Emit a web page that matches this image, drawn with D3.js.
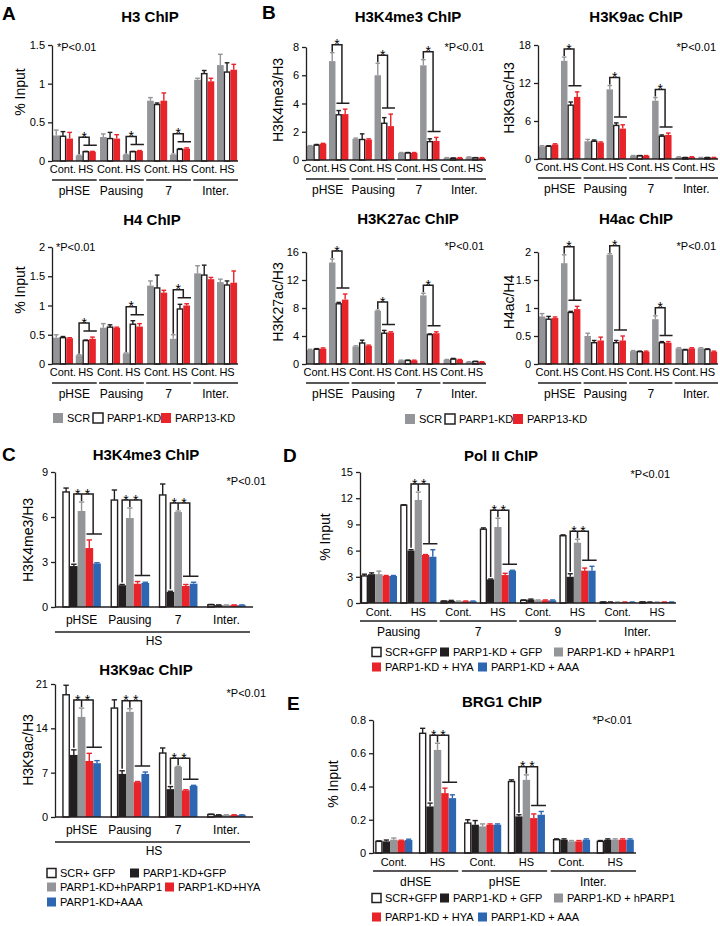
<!DOCTYPE html>
<html>
<head>
<meta charset="utf-8">
<script src="https://cdn.jsdelivr.net/npm/d3@7"></script>
<style>
  body { margin: 0; background: #fff; }
  svg { display: block; font-family: Arial, "Liberation Sans", Helvetica, sans-serif; }
</style>
</head>
<body>
<div id="chart"></div>
<script>
// ---------- data (rows = group x condition, columns = series) ----------
const groupsAB = ['pHSE', 'Pausing', '7', 'Inter.'];
const groupsC = ['pHSE', 'Pausing', '7', 'Inter.'];
const groupsD = ['Pausing', '7', '9', 'Inter.'];
const groupsE = ['dHSE', 'pHSE', 'Inter.'];
const conds = ['Cont.', 'HS'];
const condsC = ['HS'];
const series3 = ['SCR', 'PARP1-KD', 'PARP13-KD'];
const seriesC = ['SCR+ GFP', 'PARP1-KD+GFP', 'PARP1-KD+hPARP1', 'PARP1-KD+HYA', 'PARP1-KD+AAA'];
const seriesDE = ['SCR+GFP', 'PARP1-KD + GFP', 'PARP1-KD + hPARP1', 'PARP1-KD + HYA', 'PARP1-KD + AAA'];

// A: H3 ChIP (% input)
const h3Mean = [[0.33, 0.32, 0.29], [0.07, 0.12, 0.12], [0.31, 0.29, 0.29], [0.08, 0.12, 0.13],
                [0.78, 0.73, 0.78], [0.08, 0.15, 0.16], [1.05, 1.13, 1.03], [1.24, 1.15, 1.18]];
const h3Err = [[0.07, 0.06, 0.08], [0.005, 0.005, 0.005], [0.04, 0.08, 0.05], [0.005, 0.005, 0.005],
               [0.04, 0.02, 0.1], [0.01, 0.01, 0.01], [0.02, 0.04, 0.04], [0.14, 0.12, 0.07]];
// A: H4 ChIP
const h4Mean = [[0.45, 0.45, 0.44], [0.15, 0.4, 0.43], [0.62, 0.63, 0.62], [0.18, 0.68, 0.64],
                [1.34, 1.3, 1.22], [0.43, 0.94, 1.0], [1.55, 1.52, 1.45], [1.4, 1.35, 1.39]];
const h4Err = [[0.05, 0.02, 0.01], [0.01, 0.01, 0.03], [0.07, 0.04, 0.01], [0.01, 0.06, 0.05],
               [0.08, 0.22, 0.04], [0.07, 0.08, 0.03], [0.13, 0.17, 0.03], [0.05, 0.07, 0.2]];
// B: H3K4me3 / H3
const k4Mean = [[1.0, 1.05, 1.15], [7.0, 3.2, 3.25], [1.5, 1.45, 1.45], [6.0, 2.6, 2.4],
                [0.5, 0.5, 0.5], [6.7, 1.3, 1.35], [0.15, 0.12, 0.15], [0.2, 0.15, 0.15]];
const k4Err = [[0.02, 0.05, 0.03], [0.6, 0.3, 0.35], [0.05, 0.4, 0.05], [0.85, 0.4, 0.85],
               [0.03, 0.03, 0.03], [0.4, 0.2, 0.25], [0.02, 0.02, 0.02], [0.02, 0.02, 0.02]];
// B: H3K9ac / H3
const k9Mean = [[2.0, 2.0, 2.3], [15.5, 8.5, 9.8], [2.8, 2.8, 2.6], [11.0, 5.3, 4.8],
                [0.5, 0.5, 0.5], [9.2, 3.6, 3.8], [0.3, 0.2, 0.3], [0.2, 0.2, 0.2]];
const k9Err = [[0.1, 0.1, 0.1], [0.6, 0.5, 0.8], [0.3, 0.2, 0.1], [0.6, 0.4, 0.6],
               [0.05, 0.05, 0.05], [0.5, 0.2, 0.3], [0.05, 0.05, 0.05], [0.05, 0.05, 0.05]];
// B: H3K27ac / H3
const k27Mean = [[2.0, 2.1, 2.2], [14.5, 8.6, 9.2], [2.5, 3.0, 2.6], [7.6, 4.4, 4.5],
                 [0.5, 0.5, 0.5], [9.8, 4.2, 4.4], [0.6, 0.7, 0.6], [0.3, 0.35, 0.3]];
const k27Err = [[0.1, 0.1, 0.1], [0.5, 0.2, 0.8], [0.1, 0.4, 0.1], [0.1, 0.4, 0.1],
                [0.05, 0.05, 0.05], [0.3, 0.1, 0.2], [0.05, 0.1, 0.05], [0.03, 0.03, 0.03]];
// B: H4ac / H4
const h4acMean = [[0.85, 0.8, 0.82], [1.8, 0.92, 0.98], [0.5, 0.38, 0.42], [1.95, 0.38, 0.42],
                  [0.23, 0.22, 0.22], [0.8, 0.38, 0.38], [0.28, 0.25, 0.28], [0.28, 0.26, 0.22]];
const h4acErr = [[0.05, 0.05, 0.02], [0.15, 0.02, 0.05], [0.05, 0.04, 0.06], [0.02, 0.04, 0.08],
                 [0.01, 0.01, 0.01], [0.06, 0.02, 0.02], [0.01, 0.01, 0.01], [0.01, 0.01, 0.01]];
// C: H3K4me3 / H3 (HS only)
const cK4Mean = [[7.67, 2.73, 6.4, 3.93, 2.9], [7.13, 1.45, 5.93, 1.55, 1.6],
                 [7.47, 1.0, 6.33, 1.4, 1.55], [0.15, 0.12, 0.12, 0.12, 0.12]];
const cK4Err = [[0.26, 0.12, 0.6, 0.54, 0.05], [0.67, 0.05, 0.67, 0.15, 0.05],
                [0.73, 0.05, 0.07, 0.1, 0.1], [0.02, 0.02, 0.02, 0.02, 0.02]];
// C: H3K9ac / H3 (HS only)
const cK9Mean = [[19.3, 9.8, 15.8, 8.85, 8.5], [17.2, 6.8, 16.6, 5.5, 6.8],
                 [10.1, 4.4, 7.9, 4.2, 4.9], [0.4, 0.3, 0.3, 0.3, 0.3]];
const cK9Err = [[1.5, 0.8, 1.4, 1.2, 0.4], [1.3, 0.5, 0.5, 0.1, 0.3],
                [0.8, 0.4, 0.1, 0.1, 0.1], [0.05, 0.05, 0.05, 0.05, 0.05]];
// D: Pol II ChIP (% input)
const polMean = [[3.1, 3.3, 3.3, 3.1, 3.1], [11.2, 6.0, 11.8, 5.5, 5.3],
                 [0.2, 0.25, 0.2, 0.2, 0.2], [8.45, 2.7, 8.7, 3.2, 3.7],
                 [0.3, 0.4, 0.3, 0.3, 0.3], [7.7, 3.0, 6.9, 3.7, 3.7],
                 [0.1, 0.1, 0.1, 0.1, 0.1], [0.1, 0.1, 0.1, 0.1, 0.1]];
const polErr = [[0.2, 0.15, 0.35, 0.05, 0.05], [0.05, 0.1, 0.9, 0.05, 0.8],
                [0.03, 0.05, 0.03, 0.03, 0.03], [0.15, 0.05, 1.0, 0.2, 0.05],
                [0.05, 0.05, 0.05, 0.05, 0.05], [0.1, 0.35, 0.4, 0.3, 0.5],
                [0.02, 0.02, 0.02, 0.02, 0.02], [0.02, 0.02, 0.02, 0.02, 0.02]];
// E: BRG1 ChIP (% input)
const brgMean = [[0.07, 0.07, 0.08, 0.075, 0.078], [0.72, 0.28, 0.62, 0.36, 0.33],
                 [0.18, 0.17, 0.16, 0.17, 0.17], [0.43, 0.22, 0.44, 0.21, 0.23],
                 [0.08, 0.08, 0.07, 0.07, 0.08], [0.07, 0.08, 0.08, 0.08, 0.08]];
const brgErr = [[0.003, 0.008, 0.01, 0.002, 0.005], [0.03, 0.02, 0.04, 0.03, 0.02],
                [0.02, 0.025, 0.015, 0.005, 0.005], [0.01, 0.01, 0.03, 0.025, 0.02],
                [0.005, 0.005, 0.005, 0.005, 0.005], [0.005, 0.005, 0.005, 0.005, 0.005]];

// ---------- styles ----------
const GRAY = '#939598', BLACK = '#231f20', RED = '#e8232a', BLUE = '#2e67b1', WHITE = '#ffffff';
const fill3 = [GRAY, WHITE, RED], err3 = [GRAY, BLACK, RED];
const fill5 = [WHITE, BLACK, GRAY, RED, BLUE], err5 = [BLACK, BLACK, GRAY, RED, BLUE];

const svg = d3.select('#chart').append('svg')
  .attr('width', 720).attr('height', 926)
  .attr('viewBox', [0, 0, 720, 926]);

function txt(g, x, y, s, size, opts = {}) {
  return g.append('text')
    .attr('x', x).attr('y', y)
    .attr('font-size', size)
    .attr('font-weight', opts.bold ? 'bold' : null)
    .attr('text-anchor', opts.anchor || 'start')
    .attr('fill', '#000')
    .text(s);
}

function drawPanel(p) {
  const g = svg.append('g');
  const y = d3.scaleLinear().domain([0, p.max]).range([p.yBot, p.yTop]);
  const gx = d3.scaleBand().domain(p.groups).range([p.x0, p.x1])
    .paddingInner(p.gPad[0]).paddingOuter(p.gPad[1]);
  const cx = d3.scaleBand().domain(p.conds).range([0, gx.bandwidth()])
    .paddingInner(p.cPad[0]).paddingOuter(p.cPad[1]);
  const sx = d3.scaleBand().domain(d3.range(p.fills.length)).range([0, cx.bandwidth()]);
  const bw = sx.bandwidth();

  const cells = [];
  p.groups.forEach((gr, gi) => p.conds.forEach((c, ci) => {
    const row = gi * p.conds.length + ci;
    p.means[row].forEach((v, si) => cells.push({ gr, c, si, v, e: p.errs[row][si] }));
  }));
  const left = d => gx(d.gr) + cx(d.c) + sx(d.si);

  // bars
  g.selectAll('rect.bar').data(cells).join('rect')
    .attr('class', 'bar')
    .attr('x', d => left(d) + (p.fills[d.si] === WHITE ? 0.7 : 0))
    .attr('width', d => bw - (p.fills[d.si] === WHITE ? 1.4 : 0))
    .attr('y', d => y(d.v))
    .attr('height', d => p.yBot - y(d.v))
    .attr('fill', d => p.fills[d.si])
    .attr('stroke', d => p.fills[d.si] === WHITE ? BLACK : 'none')
    .attr('stroke-width', 1.4);

  // error bars (upper half only)
  const eb = g.selectAll('g.err').data(cells).join('g').attr('class', 'err')
    .attr('stroke', d => p.errCols[d.si]).attr('stroke-width', 1.4);
  eb.append('line')
    .attr('x1', d => left(d) + bw / 2).attr('x2', d => left(d) + bw / 2)
    .attr('y1', d => y(d.v)).attr('y2', d => y(d.v + d.e));
  eb.append('line')
    .attr('x1', d => left(d) + bw * 0.15).attr('x2', d => left(d) + bw * 0.85)
    .attr('y1', d => y(d.v + d.e)).attr('y2', d => y(d.v + d.e));

  // axes
  const ax = g.append('g').attr('transform', `translate(${p.x0},0)`)
    .call(d3.axisLeft(y).tickValues(p.ticks).tickFormat(d => d).tickSize(4).tickPadding(3).tickSizeOuter(0));
  ax.selectAll('path, line').attr('stroke', BLACK).attr('stroke-width', 1.3);
  ax.selectAll('text').attr('font-size', 11).attr('font-family', null).attr('fill', '#000');
  g.append('line').attr('x1', p.x0).attr('x2', p.x1).attr('y1', p.yBot).attr('y2', p.yBot)
    .attr('stroke', BLACK).attr('stroke-width', 1.3);

  // x labels
  if (p.conds.length > 1) {
    p.groups.forEach(gr => {
      p.conds.forEach(c => txt(g, gx(gr) + cx(c) + cx.bandwidth() / 2, p.yBot + p.lab[0], c, 11, { anchor: 'middle' }));
      g.append('line').attr('x1', gx(gr)).attr('x2', gx(gr) + gx.bandwidth())
        .attr('y1', p.yBot + p.lab[1]).attr('y2', p.yBot + p.lab[1])
        .attr('stroke', BLACK).attr('stroke-width', 1.5);
      txt(g, gx(gr) + gx.bandwidth() / 2, p.yBot + p.lab[2], gr, 12, { anchor: 'middle' });
    });
  } else {
    p.groups.forEach(gr => txt(g, gx(gr) + gx.bandwidth() / 2, p.yBot + p.lab[0], gr, 12, { anchor: 'middle' }));
    g.append('line').attr('x1', p.x0).attr('x2', p.x1 - 3)
      .attr('y1', p.yBot + p.lab[1]).attr('y2', p.yBot + p.lab[1])
      .attr('stroke', BLACK).attr('stroke-width', 1.5);
    txt(g, (p.x0 + p.x1) / 2, p.yBot + p.lab[2], p.conds[0], 12, { anchor: 'middle' });
  }

  // significance brackets on the HS columns
  p.sig.forEach(gr => {
    const row = p.groups.indexOf(gr) * p.conds.length + p.conds.indexOf('HS');
    const m = p.means[row], e = p.errs[row];
    const top = i => y(m[i] + e[i]);
    const lx = i => gx(gr) + cx('HS') + sx(i);
    const mid = i => lx(i) + bw / 2;
    const path = d3.path();
    let stars, L1;
    if (p.fills.length === 3) {
      const L2 = Math.min(top(1), top(2)) - 6;
      L1 = Math.min(top(0), L2) - 8;
      const xr = lx(2);
      path.moveTo(mid(0), top(0) - 1); path.lineTo(mid(0), L1); path.lineTo(xr, L1); path.lineTo(xr, L2);
      path.moveTo(lx(1) + 1, L2); path.lineTo(lx(2) + bw + 1, L2);
      stars = [(mid(0) + xr) / 2];
    } else {
      const L2 = Math.min(top(3), top(4)) - 6;
      L1 = Math.min(top(1), top(2), L2) - 8;
      const x3 = lx(4);
      path.moveTo(mid(1), top(1) - 2); path.lineTo(mid(1), L1); path.lineTo(x3, L1); path.lineTo(x3, L2);
      path.moveTo(mid(2), L1); path.lineTo(mid(2), top(2) - 1);
      path.moveTo(lx(3) + 1, L2); path.lineTo(lx(4) + bw + 1, L2);
      stars = [(mid(1) + mid(2)) / 2, (mid(2) + x3) / 2];
    }
    g.append('path').attr('d', path.toString()).attr('fill', 'none')
      .attr('stroke', BLACK).attr('stroke-width', 1.5);
    stars.forEach(sx0 => txt(g, sx0, L1 + 4.5, '*', 14, { anchor: 'middle' }));
  });

  // titles and labels
  txt(g, p.title[1], p.title[2], p.title[0], 15, { bold: true, anchor: 'middle' });
  g.append('text')
    .attr('transform', `translate(${p.ylab[1]},${p.ylab[2]}) rotate(-90)`)
    .attr('text-anchor', 'middle').attr('font-size', 14).text(p.ylab[0]);
  txt(g, p.pval[0], p.pval[1], '*P<0.01', 11, { anchor: p.pval[2] });
}

function legend(rows, names, fills, sq) {
  const g = svg.append('g');
  rows.forEach(r => r.items.forEach(([idx, x]) => {
    g.append('rect').attr('x', x).attr('y', r.y - sq / 2).attr('width', sq).attr('height', sq)
      .attr('fill', fills[idx])
      .attr('stroke', fills[idx] === WHITE ? BLACK : 'none').attr('stroke-width', 1.5);
    txt(g, x + sq + 4, r.y + 4, names[idx], 11);
  }));
}

// ---------- panel A ----------
const lab3 = [12, 19, 34];
drawPanel({ x0: 52, x1: 238, yTop: 45, yBot: 161, max: 1.5, ticks: [0, 0.5, 1, 1.5],
  groups: groupsAB, conds, means: h3Mean, errs: h3Err, fills: fill3, errCols: err3,
  gPad: [0.05, 0], cPad: [0.12, 0.04], lab: lab3, sig: ['pHSE', 'Pausing', '7'],
  title: ['H3 ChIP', 150, 22], ylab: ['% Input', 25, 92], pval: [57, 51, 'start'] });
drawPanel({ x0: 52, x1: 238, yTop: 247, yBot: 364, max: 2, ticks: [0, 0.5, 1, 1.5, 2],
  groups: groupsAB, conds, means: h4Mean, errs: h4Err, fills: fill3, errCols: err3,
  gPad: [0.05, 0], cPad: [0.12, 0.04], lab: lab3, sig: ['pHSE', 'Pausing', '7'],
  title: ['H4 ChIP', 152, 225], ylab: ['% Input', 25, 290], pval: [56, 251, 'start'] });
legend([{ y: 418, items: [[0, 53], [1, 93], [2, 161]] }], series3, fill3, 10);

// ---------- panel B ----------
drawPanel({ x0: 306, x1: 486, yTop: 47, yBot: 160, max: 8, ticks: [0, 2, 4, 6, 8],
  groups: groupsAB, conds, means: k4Mean, errs: k4Err, fills: fill3, errCols: err3,
  gPad: [0.05, 0], cPad: [0.12, 0.04], lab: lab3, sig: ['pHSE', 'Pausing', '7'],
  title: ['H3K4me3 ChIP', 408, 22], ylab: ['H3K4me3/H3', 283, 100], pval: [484, 51, 'end'] });
drawPanel({ x0: 538, x1: 718, yTop: 45, yBot: 159, max: 18, ticks: [0, 6, 12, 18],
  groups: groupsAB, conds, means: k9Mean, errs: k9Err, fills: fill3, errCols: err3,
  gPad: [0.05, 0], cPad: [0.12, 0.04], lab: lab3, sig: ['pHSE', 'Pausing', '7'],
  title: ['H3K9ac ChIP', 636, 22], ylab: ['H3K9ac/H3', 514, 98], pval: [716, 51, 'end'] });
drawPanel({ x0: 306, x1: 486, yTop: 252, yBot: 364, max: 16, ticks: [0, 4, 8, 12, 16],
  groups: groupsAB, conds, means: k27Mean, errs: k27Err, fills: fill3, errCols: err3,
  gPad: [0.05, 0], cPad: [0.12, 0.04], lab: lab3, sig: ['pHSE', 'Pausing', '7'],
  title: ['H3K27ac ChIP', 408, 224], ylab: ['H3K27ac/H3', 283, 302], pval: [484, 250, 'end'] });
drawPanel({ x0: 538, x1: 718, yTop: 252, yBot: 364, max: 2, ticks: [0, 0.5, 1, 1.5, 2],
  groups: groupsAB, conds, means: h4acMean, errs: h4acErr, fills: fill3, errCols: err3,
  gPad: [0.05, 0], cPad: [0.12, 0.04], lab: lab3, sig: ['pHSE', 'Pausing', '7'],
  title: ['H4ac ChIP', 636, 224], ylab: ['H4ac/H4', 514, 302], pval: [716, 250, 'end'] });
legend([{ y: 419, items: [[0, 405], [1, 445], [2, 513]] }], series3, fill3, 10);

// ---------- panel C ----------
const labC = [17, 25, 38];
drawPanel({ x0: 55, x1: 253, yTop: 472, yBot: 607, max: 9, ticks: [0, 3, 6, 9],
  groups: groupsC, conds: condsC, means: cK4Mean, errs: cK4Err, fills: fill5, errCols: err5,
  gPad: [0.2, 0.15], cPad: [0, 0], lab: labC, sig: ['pHSE', 'Pausing', '7'],
  title: ['H3K4me3 ChIP', 146, 460], ylab: ['H3K4me3/H3', 33, 540], pval: [266, 485, 'end'] });
drawPanel({ x0: 55, x1: 253, yTop: 684, yBot: 817, max: 21, ticks: [0, 7, 14, 21],
  groups: groupsC, conds: condsC, means: cK9Mean, errs: cK9Err, fills: fill5, errCols: err5,
  gPad: [0.2, 0.15], cPad: [0, 0], lab: labC, sig: ['pHSE', 'Pausing', '7'],
  title: ['H3K9ac ChIP', 146, 675], ylab: ['H3K9ac/H3', 33, 750], pval: [266, 697, 'end'] });
legend([{ y: 873, items: [[0, 47], [1, 130]] }, { y: 887, items: [[2, 47], [3, 165]] },
        { y: 902, items: [[4, 47]] }], seriesC, fill5, 9);

// ---------- panel D ----------
const labDE = [13, 18, 33];
drawPanel({ x0: 360, x1: 676, yTop: 472, yBot: 603, max: 15, ticks: [0, 3, 6, 9, 12, 15],
  groups: groupsD, conds, means: polMean, errs: polErr, fills: fill5, errCols: err5,
  gPad: [0.03, 0], cPad: [0.08, 0.02], lab: labDE, sig: ['Pausing', '7', '9'],
  title: ['Pol II ChIP', 501, 461], ylab: ['% Input', 330, 537], pval: [670, 478, 'end'] });
legend([{ y: 652, items: [[0, 372], [1, 440], [2, 554]] }, { y: 667, items: [[3, 372], [4, 478]] }],
  seriesDE, fill5, 9);

// ---------- panel E ----------
drawPanel({ x0: 373, x1: 636, yTop: 720, yBot: 853, max: 0.8, ticks: [0, 0.2, 0.4, 0.6, 0.8],
  groups: groupsE, conds, means: brgMean, errs: brgErr, fills: fill5, errCols: err5,
  gPad: [0.04, 0], cPad: [0.15, 0.05], lab: labDE, sig: ['dHSE', 'pHSE'],
  title: ['BRG1 ChIP', 502, 707], ylab: ['% Input', 338, 784], pval: [632, 724, 'end'] });
legend([{ y: 898, items: [[0, 372], [1, 440], [2, 554]] }, { y: 917, items: [[3, 372], [4, 478]] }],
  seriesDE, fill5, 9);

// panel letters
[['A', 2, 20], ['B', 262, 19], ['C', 2, 461], ['D', 283, 462], ['E', 287, 710]]
  .forEach(([s, x, yy]) => txt(svg, x, yy, s, 19, { bold: true }));
</script>
</body>
</html>
